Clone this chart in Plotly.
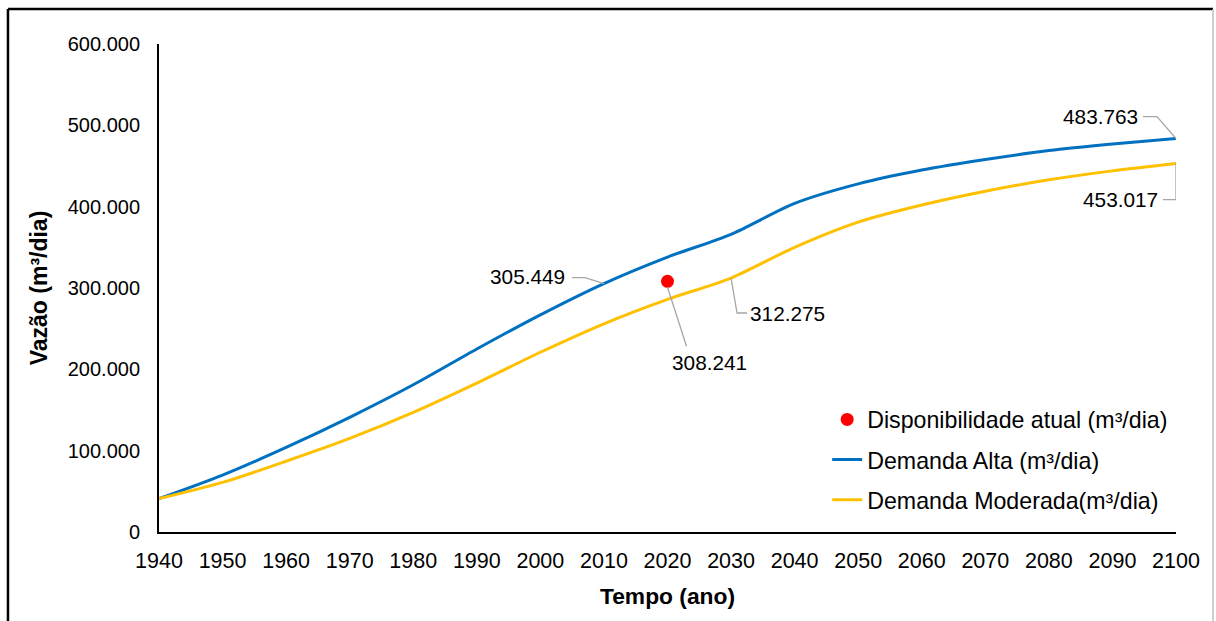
import plotly.graph_objects as go

# Anos da projeção
anos = [1940, 1950, 1960, 1970, 1980, 1990, 2000, 2010, 2020, 2030,
        2040, 2050, 2060, 2070, 2080, 2090, 2100]

# Demanda alta (m³/dia)
demanda_alta = [41000, 70000, 104000, 141000, 181000, 225000, 267000, 305449, 338000,
                366000, 404000, 428000, 445000, 458000, 469000, 477000, 483763]

# Demanda moderada (m³/dia)
demanda_moderada = [41000, 61000, 87000, 115000, 147000, 183000, 221000, 256000, 286000,
                    312275, 350000, 381000, 402000, 419000, 433000, 444000, 453017]

# Disponibilidade atual
ano_atual = 2020
disponibilidade = 308241

# Índices dos pontos rotulados
i_alta_2010 = anos.index(2010)
i_mod_2030 = anos.index(2030)

FONT = "Arial, Liberation Sans, sans-serif"
AZUL = "#0070C0"
AMARELO = "#FFC000"
CINZA = "#A6A6A6"


def fmt(v):
    return f"{v:,}".replace(",", ".")


fig = go.Figure()

fig.add_trace(go.Scatter(
    x=[ano_atual], y=[disponibilidade], mode="markers",
    name="Disponibilidade atual (m³/dia)",
    marker=dict(color="#FF0000", size=13),
    legendgroup="a",
))
fig.add_trace(go.Scatter(
    x=anos, y=demanda_alta, mode="lines",
    name="Demanda Alta (m³/dia)",
    line=dict(color=AZUL, width=3, shape="spline", smoothing=0.8),
    legendgroup="b",
))
fig.add_trace(go.Scatter(
    x=anos, y=demanda_moderada, mode="lines",
    name="Demanda Moderada(m³/dia)",
    line=dict(color=AMARELO, width=3, shape="spline", smoothing=0.8),
    legendgroup="c",
))

# Rótulos de dados com linhas de chamada (offsets em pixels)
rotulos = [
    # (x, y, dx_texto, dy_texto, caminho da linha de chamada)
    (anos[i_alta_2010], demanda_alta[i_alta_2010], -76, 7, "M0,0 L-19,6 L-32,6"),
    (ano_atual, disponibilidade, 42, -81, "M0,-6 L19,-65"),
    (anos[i_mod_2030], demanda_moderada[i_mod_2030], 56, -35, "M0,0 L6,-35 L16,-35"),
    (anos[-1], demanda_alta[-1], -76, 22, "M0,0 L-19,22 L-33,22"),
    (anos[-1], demanda_moderada[-1], -56, -36, "M0,0 L0,-36 L-13,-36"),
]

for x, y, dx, dy, caminho in rotulos:
    fig.add_annotation(
        x=x, y=y, xref="x", yref="y", text=fmt(y), showarrow=False,
        xshift=dx, yshift=dy, font=dict(family=FONT, size=20.8, color="#000000"),
    )
    fig.add_shape(
        type="path", xref="x", yref="y", xsizemode="pixel", ysizemode="pixel",
        xanchor=x, yanchor=y, path=caminho,
        line=dict(color=CINZA, width=1.3),
    )

# Moldura externa
moldura = dict(xref="paper", yref="paper", type="line")
fig.add_shape(**moldura, x0=-0.1485, x1=-0.1485, y0=1.0717, y1=-0.25,
              line=dict(color="#000000", width=2.5))
fig.add_shape(**moldura, x0=-0.1485, x1=1.0364, y0=1.0717, y1=1.0717,
              line=dict(color="#000000", width=2.5))
fig.add_shape(**moldura, x0=1.0364, x1=1.0364, y0=1.0717, y1=-0.25,
              line=dict(color="#BFBFBF", width=1.5))

fig.update_layout(
    width=1216, height=621,
    margin=dict(l=159, r=40, t=44, b=89),
    paper_bgcolor="#FFFFFF", plot_bgcolor="#FFFFFF",
    separators=",.",
    font=dict(family=FONT, size=20, color="#000000"),
    showlegend=True,
    legend=dict(
        x=0.657, y=0.275, xanchor="left", yanchor="top",
        font=dict(family=FONT, size=23.2, color="#000000"),
        bgcolor="rgba(0,0,0,0)", traceorder="grouped", tracegroupgap=7,
    ),
    xaxis=dict(
        range=[1940, 2100], tickmode="array", tickvals=anos,
        ticktext=[str(a) for a in anos],
        showgrid=False, zeroline=False, showline=True,
        linecolor="#000000", linewidth=2, ticks="", ticklen=0,
        ticklabelstandoff=8,
        tickfont=dict(family=FONT, size=21.5, color="#000000"),
        title=dict(text="<b>Tempo (ano)</b>", standoff=16,
                   font=dict(family=FONT, size=22.8, color="#000000")),
    ),
    yaxis=dict(
        range=[0, 600000], tickmode="linear", tick0=0, dtick=100000,
        tickformat=",d",
        showgrid=False, zeroline=False, showline=True,
        linecolor="#000000", linewidth=2, ticks="", ticklen=0,
        ticklabelstandoff=13,
        tickfont=dict(family=FONT, size=20, color="#000000"),
        title=dict(text="<b>Vazão (m³/dia)</b>", standoff=14,
                   font=dict(family=FONT, size=23, color="#000000")),
    ),
)

fig.write_html("out.html")
